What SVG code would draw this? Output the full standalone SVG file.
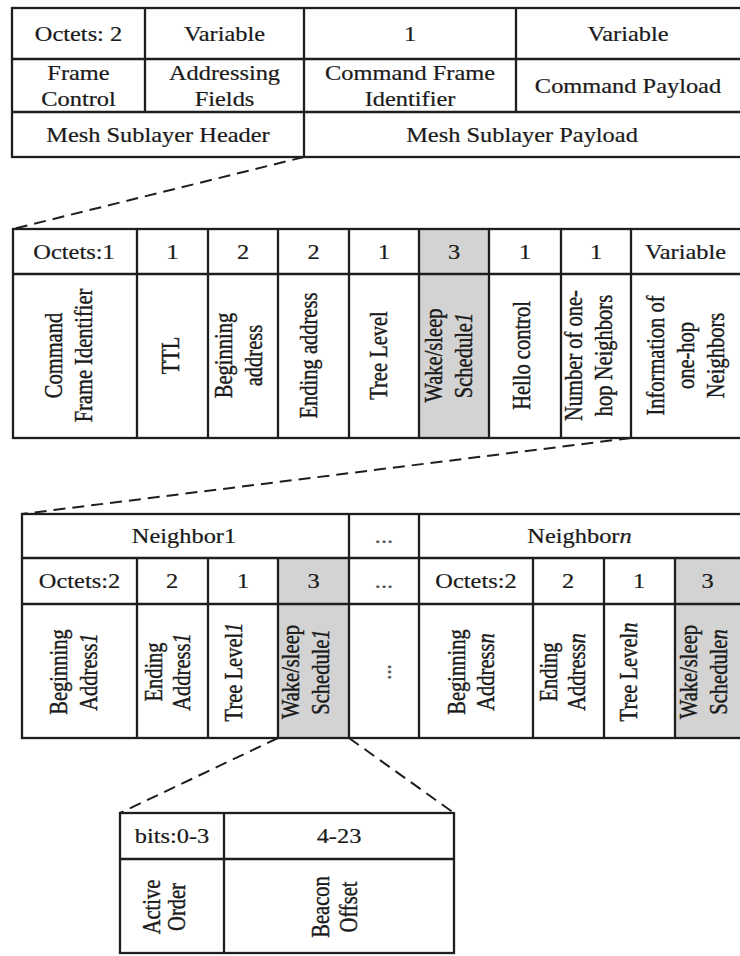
<svg xmlns="http://www.w3.org/2000/svg" width="740" height="956" viewBox="0 0 740 956">
<style>
  .bg { fill: #ffffff; }
  .ln { stroke: #1e1e1e; stroke-width: 2.3; fill: none; }
  .gray { fill: #d3d3d3; stroke: none; }
  .dash { stroke: #1e1e1e; stroke-width: 2; fill: none; stroke-dasharray: 12 7; }
  .t { font-family: "Liberation Serif", "Times New Roman", serif; font-size: 20px; fill: #1a1a1a; stroke: #1a1a1a; stroke-width: 0.2; text-anchor: middle; }
  .r { font-size: 20.5px; stroke-width: 0.35; }
  .i { font-style: italic; }
  .dots { fill: #555555; stroke: #555555; }
</style>
<rect class="bg" x="0" y="0" width="740" height="956"/>

<!-- Table 1: Mesh frame -->
<g id="mesh-frame">
  <rect class="ln" x="12" y="8" width="730" height="149"/>
  <path class="ln" d="M12 59H742M12 112H742M145 8V112M304 8V157M516 8V112"/>
  <g id="f-frame-control">
    <text class="t" transform="translate(78.5,40.5) scale(1.22,1)">Octets: 2</text>
    <text class="t" transform="translate(78.5,79.5) scale(1.22,1)">Frame</text>
    <text class="t" transform="translate(78.5,105.5) scale(1.22,1)">Control</text>
  </g>
  <g id="f-addressing">
    <text class="t" transform="translate(224.5,40.5) scale(1.22,1)">Variable</text>
    <text class="t" transform="translate(224.5,79.5) scale(1.22,1)">Addressing</text>
    <text class="t" transform="translate(224.5,105.5) scale(1.22,1)">Fields</text>
  </g>
  <g id="f-cmd-id">
    <text class="t" transform="translate(410,40.5) scale(1.22,1)">1</text>
    <text class="t" transform="translate(410,79.5) scale(1.22,1)">Command Frame</text>
    <text class="t" transform="translate(410,105.5) scale(1.22,1)">Identifier</text>
  </g>
  <g id="f-cmd-payload">
    <text class="t" transform="translate(628,40.5) scale(1.22,1)">Variable</text>
    <text class="t" transform="translate(628,92.5) scale(1.22,1)">Command Payload</text>
  </g>
  <g id="f-header">
    <text class="t" transform="translate(158,141.5) scale(1.22,1)">Mesh Sublayer Header</text>
  </g>
  <g id="f-payload">
    <text class="t" transform="translate(522,141.5) scale(1.22,1)">Mesh Sublayer Payload</text>
  </g>
</g>

<!-- Table 2: Hello command payload -->
<g id="hello-command">
  <rect class="gray" x="419" y="229" width="70" height="209"/>
  <rect class="ln" x="13" y="229" width="729" height="209"/>
  <path class="ln" d="M13 274H742M137 229V438M208 229V438M278 229V438M349 229V438M419 229V438M489 229V438M561 229V438M631 229V438"/>
  <text class="t" transform="translate(74,258.5) scale(1.22,1)">Octets:1</text>
  <text class="t" transform="translate(172.5,258.5) scale(1.22,1)">1</text>
  <text class="t" transform="translate(243,258.5) scale(1.22,1)">2</text>
  <text class="t" transform="translate(313.5,258.5) scale(1.22,1)">2</text>
  <text class="t" transform="translate(384,258.5) scale(1.22,1)">1</text>
  <text class="t" transform="translate(454,258.5) scale(1.22,1)">3</text>
  <text class="t" transform="translate(525,258.5) scale(1.22,1)">1</text>
  <text class="t" transform="translate(596,258.5) scale(1.22,1)">1</text>
  <text class="t" transform="translate(685.5,258.5) scale(1.22,1)">Variable</text>

  <text class="t r" transform="translate(61.8,355.5) scale(1.22,1) rotate(-90)">Command</text>
  <text class="t r" transform="translate(91.8,355.5) scale(1.22,1) rotate(-90)">Frame Identifier</text>
  <text class="t r" transform="translate(178.5,355.5) scale(1.22,1) rotate(-90)">TTL</text>
  <text class="t r" transform="translate(231.8,355.5) scale(1.22,1) rotate(-90)">Beginning</text>
  <text class="t r" transform="translate(261.8,355.5) scale(1.22,1) rotate(-90)">address</text>
  <text class="t r" transform="translate(316.8,355.5) scale(1.22,1) rotate(-90)">Ending address</text>
  <text class="t r" transform="translate(386.8,355.5) scale(1.22,1) rotate(-90)">Tree Level</text>
  <text class="t r" transform="translate(441.8,355.5) scale(1.22,1) rotate(-90)">Wake/sleep</text>
  <text class="t r" transform="translate(471.8,355.5) scale(1.22,1) rotate(-90)">Schedule<tspan class="i">1</tspan></text>
  <text class="t r" transform="translate(530.1,355.5) scale(1.22,1) rotate(-90)">Hello control</text>
  <text class="t r" transform="translate(581.8,355.5) scale(1.22,1) rotate(-90)">Number of one-</text>
  <text class="t r" transform="translate(611.8,355.5) scale(1.22,1) rotate(-90)">hop Neighbors</text>
  <text class="t r" transform="translate(663.5,355.5) scale(1.22,1) rotate(-90)">Information of</text>
  <text class="t r" transform="translate(693.5,355.5) scale(1.22,1) rotate(-90)">one-hop</text>
  <text class="t r" transform="translate(723.5,355.5) scale(1.22,1) rotate(-90)">Neighbors</text>
</g>

<!-- Table 3: Information of one-hop neighbors -->
<g id="neighbors-info">
  <rect class="gray" x="278" y="558" width="71" height="180"/>
  <rect class="gray" x="675" y="558" width="67" height="180"/>
  <rect class="ln" x="22" y="514" width="720" height="224"/>
  <path class="ln" d="M22 558H742M22 604H742M349 514V738M419 514V738M137 558V738M208 558V738M278 558V738M533 558V738M604 558V738M675 558V738"/>
  <text class="t" transform="translate(184,543) scale(1.22,1)">Neighbor1</text>
  <text class="t dots" transform="translate(384,543) scale(1.22,1)">...</text>
  <text class="t" transform="translate(579.5,543) scale(1.22,1)">Neighbor<tspan class="i">n</tspan></text>

  <text class="t" transform="translate(79.5,588) scale(1.22,1)">Octets:2</text>
  <text class="t" transform="translate(172,588) scale(1.22,1)">2</text>
  <text class="t" transform="translate(243,588) scale(1.22,1)">1</text>
  <text class="t" transform="translate(313.5,588) scale(1.22,1)">3</text>
  <text class="t dots" transform="translate(384,588) scale(1.22,1)">...</text>
  <text class="t" transform="translate(476,588) scale(1.22,1)">Octets:2</text>
  <text class="t" transform="translate(568,588) scale(1.22,1)">2</text>
  <text class="t" transform="translate(639,588) scale(1.22,1)">1</text>
  <text class="t" transform="translate(707.5,588) scale(1.22,1)">3</text>

  <text class="t r" transform="translate(66.8,672) scale(1.22,1) rotate(-90)">Beginning</text>
  <text class="t r" transform="translate(96.8,672) scale(1.22,1) rotate(-90)">Address<tspan class="i">1</tspan></text>
  <text class="t r" transform="translate(161.8,672) scale(1.22,1) rotate(-90)">Ending</text>
  <text class="t r" transform="translate(190.1,672) scale(1.22,1) rotate(-90)">Address<tspan class="i">1</tspan></text>
  <text class="t r" transform="translate(241.8,672) scale(1.22,1) rotate(-90)">Tree Level<tspan class="i">1</tspan></text>
  <text class="t r" transform="translate(298.5,672) scale(1.22,1) rotate(-90)">Wake/sleep</text>
  <text class="t r" transform="translate(328.5,672) scale(1.22,1) rotate(-90)">Schedule<tspan class="i">1</tspan></text>
  <text class="t r dots" transform="translate(390.5,672) scale(1.22,1) rotate(-90)">...</text>
  <text class="t r" transform="translate(465.1,672) scale(1.22,1) rotate(-90)">Beginning</text>
  <text class="t r" transform="translate(493.5,672) scale(1.22,1) rotate(-90)">Address<tspan class="i">n</tspan></text>
  <text class="t r" transform="translate(556.8,672) scale(1.22,1) rotate(-90)">Ending</text>
  <text class="t r" transform="translate(585.1,672) scale(1.22,1) rotate(-90)">Address<tspan class="i">n</tspan></text>
  <text class="t r" transform="translate(636.8,672) scale(1.22,1) rotate(-90)">Tree Level<tspan class="i">n</tspan></text>
  <text class="t r" transform="translate(696.8,672) scale(1.22,1) rotate(-90)">Wake/sleep</text>
  <text class="t r" transform="translate(726.8,672) scale(1.22,1) rotate(-90)">Schedule<tspan class="i">n</tspan></text>
</g>

<!-- Table 4: Wake/sleep schedule -->
<g id="wake-sleep-schedule">
  <rect class="ln" x="120" y="813" width="334" height="140"/>
  <path class="ln" d="M120 859H454M224 813V953"/>
  <text class="t" transform="translate(172,843) scale(1.22,1)">bits:0-3</text>
  <text class="t" transform="translate(339,843) scale(1.22,1)">4-23</text>
  <text class="t r" transform="translate(159.8,907) scale(1.22,1) rotate(-90)">Active</text>
  <text class="t r" transform="translate(184.8,907) scale(1.22,1) rotate(-90)">Order</text>
  <text class="t r" transform="translate(328.8,907) scale(1.22,1) rotate(-90)">Beacon</text>
  <text class="t r" transform="translate(356.8,907) scale(1.22,1) rotate(-90)">Offset</text>
</g>

<!-- Connectors -->
<g id="connectors">
  <line class="dash" x1="304" y1="157" x2="13" y2="229"/>
  <line class="dash" x1="631" y1="438" x2="22" y2="514"/>
  <line class="dash" x1="278" y1="738" x2="120" y2="813"/>
  <line class="dash" x1="349" y1="738" x2="454" y2="813"/>
</g>
</svg>
